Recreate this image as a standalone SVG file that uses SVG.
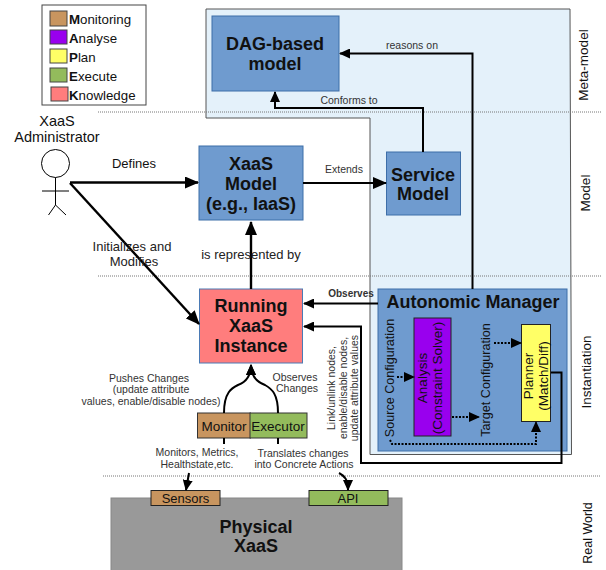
<svg xmlns="http://www.w3.org/2000/svg" width="606" height="570" viewBox="0 0 606 570">
<style>
text{font-family:"Liberation Sans",Arial,sans-serif;fill:#111}
.b{font-weight:bold;text-anchor:middle;font-size:18px}
.s{font-size:10.5px;text-anchor:middle;fill:#333}
.m{font-size:13px;text-anchor:middle;fill:#222}
.lg{font-size:13.300px}
.blue{fill:#6f9bcf;stroke:#3d6ea8;stroke-width:1}
.sw{stroke:#444;stroke-width:1}
.dot{fill:none;stroke:#777;stroke-width:1;stroke-dasharray:1 1}
.c{fill:none;stroke:#000;stroke-width:2}
.c3{fill:none;stroke:#000;stroke-width:2.4}
.d{fill:none;stroke:#000;stroke-width:2;stroke-dasharray:2 1.5}
</style>
<defs>
<marker id="a" markerUnits="userSpaceOnUse" markerWidth="14" markerHeight="12" refX="13" refY="6" orient="auto"><path d="M0 0L14 6L0 12Z" fill="#000"/></marker>
<marker id="n" markerUnits="userSpaceOnUse" markerWidth="11" markerHeight="10" refX="10" refY="5" orient="auto"><path d="M0 0L11 5L0 10Z" fill="#000"/></marker>
</defs>
<g id="panel"><path d="M206 9H570L571.500 454.500H370V118H206Z" fill="#e4f1fa" stroke="#555" stroke-width="1"/></g>
<g id="separators">
<path class="dot" d="M98 112H601M98 276H601M103 476H601"/>
</g>
<g id="legend">
<rect x="42" y="5" width="104" height="100" fill="#fff" stroke="#444"/>
<rect class="sw" x="50" y="11" width="17" height="15" fill="#c8955f"/>
<rect class="sw" x="50" y="30" width="17" height="14" fill="#9900ee"/>
<rect class="sw" x="50" y="49" width="17" height="14" fill="#ffff66"/>
<rect class="sw" x="50" y="68" width="17" height="14" fill="#93bb5c"/>
<rect class="sw" x="51" y="87" width="17" height="14" fill="#ff7d7d"/>
<text class="lg" x="69" y="23.500"><tspan font-weight="bold">M</tspan>onitoring</text>
<text class="lg" x="69" y="42.500"><tspan font-weight="bold">A</tspan>nalyse</text>
<text class="lg" x="69" y="61.500"><tspan font-weight="bold">P</tspan>lan</text>
<text class="lg" x="69" y="80.500"><tspan font-weight="bold">E</tspan>xecute</text>
<text class="lg" x="69" y="99.500"><tspan font-weight="bold">K</tspan>nowledge</text>
</g>
<g id="actor">
<circle cx="55.500" cy="163.500" r="14" fill="#fff" stroke="#000" stroke-width="1"/>
<path d="M55.500 177.500V205M42 191H69M55.500 205L48.500 215M55.500 205L66 215" fill="none" stroke="#000" stroke-width="1"/>
<text x="57" y="126" font-size="14.500" text-anchor="middle">XaaS</text>
<text x="57" y="142" font-size="14.500" text-anchor="middle">Administrator</text>
</g>
<g id="dag"><rect class="blue" x="212" y="16" width="127" height="75"/>
<text class="b" x="275" y="50">DAG-based</text><text class="b" x="275" y="70">model</text></g>
<g id="xaas-model"><rect class="blue" x="199" y="146" width="104" height="74"/>
<text class="b" x="251" y="170">XaaS</text><text class="b" x="251" y="190">Model</text><text class="b" x="251" y="210">(e.g., IaaS)</text></g>
<g id="service-model"><rect class="blue" x="386.500" y="152" width="74" height="63"/>
<text class="b" x="423" y="181">Service</text><text class="b" x="423" y="200">Model</text></g>
<g id="running"><rect x="199.500" y="289" width="103" height="74" fill="#ff7d7d" stroke="#4a7ab5"/>
<text class="b" x="251" y="312">Running</text><text class="b" x="251" y="332">XaaS</text><text class="b" x="251" y="352">Instance</text></g>
<g id="autonomic"><rect class="blue" x="378" y="289" width="189" height="162"/>
<text class="b" x="473" y="308">Autonomic Manager</text></g>
<g id="analysis"><rect x="414" y="318" width="37" height="118" fill="#9900ee" stroke="#222"/>
<text transform="translate(429 378) rotate(-90)" font-size="13.500" text-anchor="middle" fill="#222"><tspan x="0" y="-2">Analysis</tspan><tspan x="0" y="13">(Constraint Solver)</tspan></text></g>
<g id="planner"><rect x="521.500" y="324.500" width="29" height="97" fill="#ffff66" stroke="#222"/>
<text transform="translate(533 376) rotate(-90)" font-size="13.500" text-anchor="middle" fill="#222"><tspan x="0" y="0">Planner</tspan><tspan x="0" y="15">(Match/Diff)</tspan></text></g>
<g id="physical"><rect x="111" y="498" width="291" height="73" fill="#999" stroke="#888"/>
<text class="b" x="256" y="533">Physical</text><text class="b" x="256" y="552">XaaS</text></g>
<g id="sensors"><rect x="151" y="490.500" width="69" height="15" fill="#c8955f" stroke="#222"/><text x="185.500" y="503" font-size="13" text-anchor="middle">Sensors</text></g>
<g id="api"><rect x="309" y="490.500" width="79" height="15" fill="#93bb5c" stroke="#222"/><text x="348" y="503" font-size="13" text-anchor="middle">API</text></g>
<g id="monitor"><rect x="197.500" y="413" width="53" height="25" fill="#c8955f" stroke="#333"/><text x="224" y="430.500" font-size="13.500" text-anchor="middle">Monitor</text></g>
<g id="executor"><rect x="250" y="413" width="57" height="25" fill="#93bb5c" stroke="#333"/><text x="278" y="430.500" font-size="13.500" text-anchor="middle">Executor</text></g>
<g id="connectors">
<path class="c3" marker-end="url(#a)" d="M70 182.500H198"/>
<path class="c3" marker-end="url(#a)" d="M70 183L199 324"/>
<path class="c3" marker-end="url(#a)" d="M251 289V222"/>
<path class="c" marker-end="url(#a)" d="M303 183H386"/>
<path class="c" marker-end="url(#n)" d="M423 152V108H275V92"/>
<path class="c" marker-end="url(#n)" d="M472.500 289V53.500H340"/>
<path class="c" marker-end="url(#n)" d="M378 303.500H304"/>
<path class="c" marker-end="url(#n)" d="M551 372.500H561.500V463H361V326.500H304"/>
<path class="c" marker-end="url(#n)" d="M224 413C224 392 232 388 238 385C246 382 251 376 251 365"/>
<path class="c" marker-end="url(#n)" d="M278 413C278 394 272 389 265 385C257 382 251 376 251 365"/>
<path class="c" d="M224 438V444M278 438V444"/>
<path class="c" marker-end="url(#n)" d="M189 473L186 490"/>
<path class="c" marker-end="url(#n)" d="M339 473C345 476 348 480 348 490"/>
<path class="d" marker-end="url(#n)" d="M397 377H414"/>
<path class="d" marker-end="url(#n)" d="M452 417H479"/>
<path class="d" marker-end="url(#n)" d="M494 343H521"/>
<path class="d" marker-end="url(#n)" d="M390 440L392 444H536V422"/>
</g>
<g id="labels">
<text x="134" y="168" font-size="13" text-anchor="middle" fill="#222">Defines</text>
<text class="m" x="132" y="251">Initializes and</text>
<text class="m" x="134" y="266">Modifies</text>
<text class="m" x="251" y="259">is represented by</text>
<text class="s" x="344" y="173">Extends</text>
<text class="s" x="349" y="104">Conforms to</text>
<text class="s" x="412" y="49">reasons on</text>
<text class="s" x="351" y="297" font-size="10" font-weight="bold" fill="#111" style="font-size:10px">Observes</text>
<text class="s" x="149" y="382">Pushes Changes</text>
<text class="s" x="151" y="393">(update attribute</text>
<text class="s" x="151" y="405">values, enable/disable nodes)</text>
<text class="s" x="295" y="381">Observes</text>
<text class="s" x="297" y="392">Changes</text>
<text class="s" x="197" y="456">Monitors, Metrics,</text>
<text class="s" x="197" y="468">Healthstate,etc.</text>
<text class="s" x="303" y="457">Translates changes</text>
<text class="s" x="304" y="468">into Concrete Actions</text>
<text class="s" transform="translate(344 388) rotate(-90)"><tspan x="0" y="-9">Link/unlink nodes,</tspan><tspan x="0" y="3">enable/disable nodes,</tspan><tspan x="0" y="14">update attribute values</tspan></text>
<text transform="translate(393.500 378) rotate(-90)" font-size="12.600" text-anchor="middle">Source Configuration</text>
<text transform="translate(490 380) rotate(-90)" font-size="12.600" text-anchor="middle">Target Configuration</text>
<text transform="translate(588 65) rotate(-90)" font-size="13.500" text-anchor="middle">Meta-model</text>
<text transform="translate(590 193) rotate(-90)" font-size="13.500" text-anchor="middle">Model</text>
<text transform="translate(591 372) rotate(-90)" font-size="13.500" text-anchor="middle">Instantiation</text>
<text transform="translate(592 533) rotate(-90)" font-size="12.500" text-anchor="middle">Real World</text>
</g>
</svg>
